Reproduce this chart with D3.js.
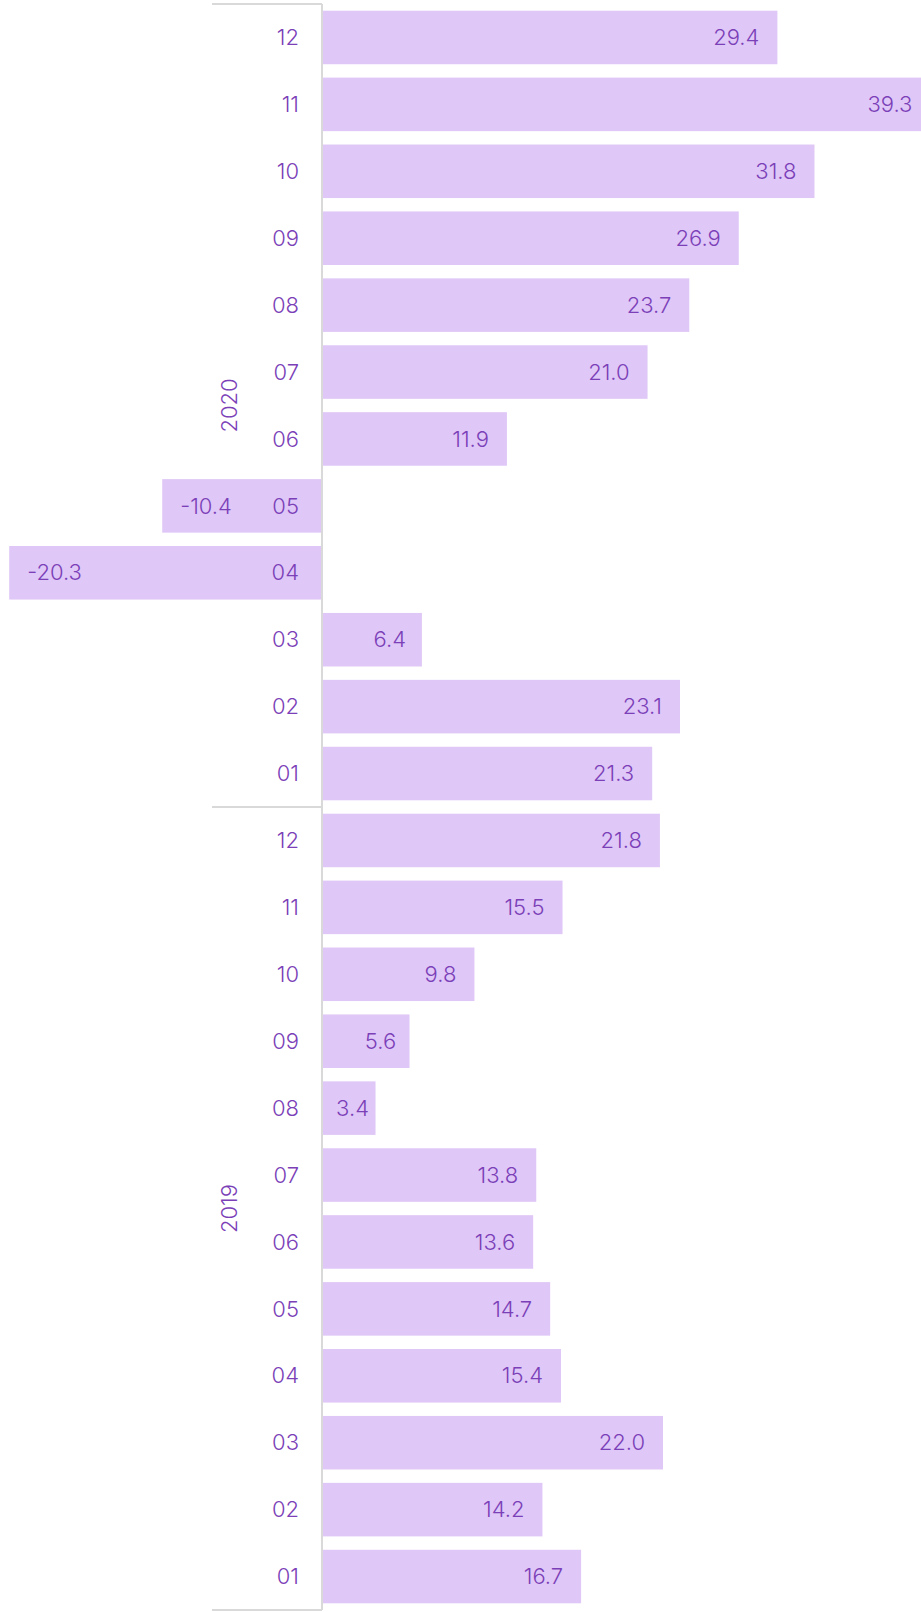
<!DOCTYPE html>
<html>
<head>
<meta charset="utf-8">
<script src="https://cdn.jsdelivr.net/npm/d3@7"></script>
<style>
  body { margin: 0; background: #fff; }
  text { font-family: Inter, "Noto Sans", sans-serif; font-weight: 300; }
</style>
</head>
<body>
<div id="container"></div>
<script>
const WIDTH = 921;
const HEIGHT = 1612;

// Data (months 01..12 per year)
const years = ['2020', '2019'];
const months = ['01', '02', '03', '04', '05', '06', '07', '08', '09', '10', '11', '12'];
const values2020 = [21.3, 23.1, 6.4, -20.3, -10.4, 11.9, 21.0, 23.7, 26.9, 31.8, 39.3, 29.4];
const values2019 = [16.7, 14.2, 22.0, 15.4, 14.7, 13.6, 13.8, 3.4, 5.6, 9.8, 15.5, 21.8];

const rows = [];
years.forEach(yr => {
  const vals = yr === '2020' ? values2020 : values2019;
  months.slice().reverse().forEach(m => {
    rows.push({ year: yr, month: m, key: yr + '-' + m, value: vals[months.indexOf(m)] });
  });
});

const BAR_COLOR = '#dfc7f7';
const TEXT_COLOR = '#7b3fb8';
const AXIS_COLOR = '#d9d9d9';
const AXIS_X = 322;
const YEAR_X = 212;
const CHART_TOP = 4;
const CHART_BOTTOM = 1610;

const fmt = d3.formatLocale({ decimal: '.', thousands: ',', grouping: [3], currency: ['', ''], minus: '-' }).format('.1f');

const svg = d3.select('#container').append('svg')
  .attr('width', WIDTH)
  .attr('height', HEIGHT);

// Scales
const x = d3.scaleLinear().domain([-20.3, 39.3]).range([9.2, 930.4]);
const y = d3.scaleBand().domain(rows.map(d => d.key)).range([CHART_TOP, CHART_BOTTOM]).paddingInner(0.2).paddingOuter(0.1);
const gap = (y.step() - y.bandwidth()) / 2;

// Bars
svg.append('g').selectAll('rect')
  .data(rows)
  .join('rect')
  .attr('x', d => Math.min(x(0), x(d.value)))
  .attr('y', d => y(d.key))
  .attr('width', d => Math.abs(x(d.value) - x(0)))
  .attr('height', y.bandwidth())
  .attr('fill', BAR_COLOR);

// Value labels, inside the bar end
function pad(w) { return Math.max(6, Math.min(18, w * 0.2 - 4)); }
svg.append('g').selectAll('text')
  .data(rows)
  .join('text')
  .attr('x', d => {
    const w = Math.abs(x(d.value) - x(0));
    return d.value >= 0 ? x(d.value) - pad(w) : x(d.value) + pad(w);
  })
  .attr('y', d => y(d.key) + y.bandwidth() / 2)
  .attr('dy', '0.35em')
  .attr('text-anchor', d => d.value >= 0 ? 'end' : 'start')
  .attr('font-size', 22)
  .attr('fill', TEXT_COLOR)
  .text(d => fmt(d.value));

// Month axis labels
svg.append('g').selectAll('text')
  .data(rows)
  .join('text')
  .attr('x', 299)
  .attr('y', d => y(d.key) + y.bandwidth() / 2)
  .attr('dy', '0.35em')
  .attr('text-anchor', 'end')
  .attr('font-size', 22)
  .attr('fill', TEXT_COLOR)
  .text(d => d.month);

// Axis line
svg.append('line')
  .attr('x1', AXIS_X).attr('x2', AXIS_X)
  .attr('y1', CHART_TOP).attr('y2', CHART_BOTTOM)
  .attr('stroke', AXIS_COLOR).attr('stroke-width', 2);

// Year groups
const groupBounds = years.map(yr => {
  const keys = rows.filter(d => d.year === yr).map(d => d.key);
  return { year: yr, y0: y(keys[0]) - gap, y1: y(keys[keys.length - 1]) + y.bandwidth() + gap };
});
groupBounds[0].y0 = CHART_TOP;
groupBounds[groupBounds.length - 1].y1 = CHART_BOTTOM;

const seps = [CHART_TOP].concat(groupBounds.map(g => g.y1));
svg.append('g').selectAll('line')
  .data(seps)
  .join('line')
  .attr('x1', YEAR_X).attr('x2', AXIS_X)
  .attr('y1', d => d).attr('y2', d => d)
  .attr('stroke', AXIS_COLOR).attr('stroke-width', 2);

// Year labels
svg.append('g').selectAll('text')
  .data(groupBounds)
  .join('text')
  .attr('transform', d => 'translate(229,' + ((d.y0 + d.y1) / 2) + ') rotate(-90)')
  .attr('dy', '0.35em')
  .attr('text-anchor', 'middle')
  .attr('font-size', 22)
  .attr('fill', TEXT_COLOR)
  .text(d => d.year);
</script>
</body>
</html>
